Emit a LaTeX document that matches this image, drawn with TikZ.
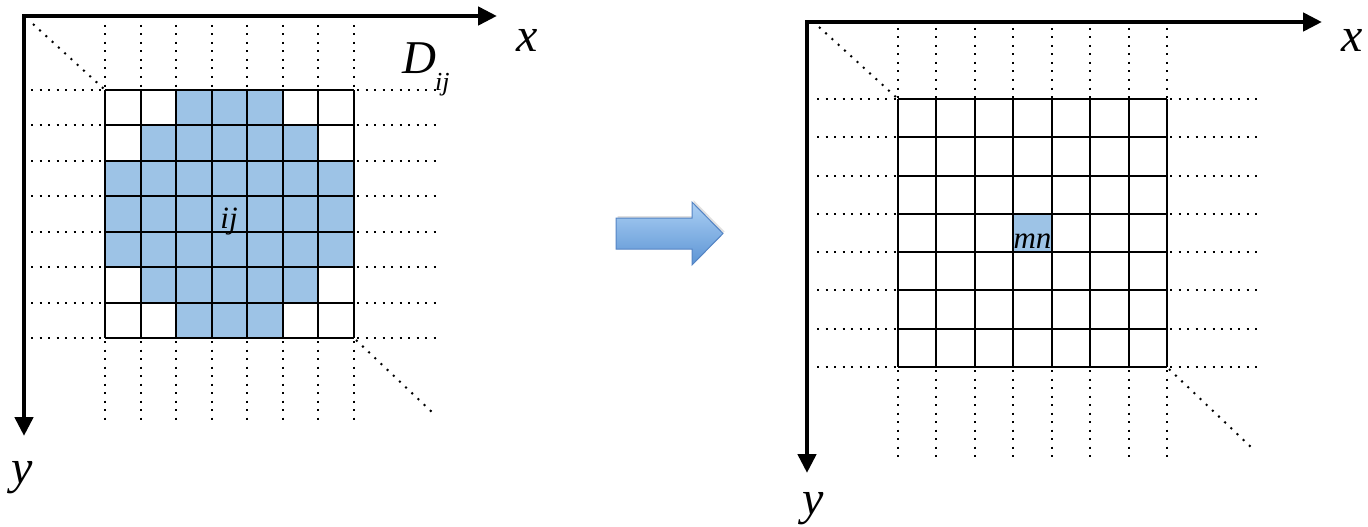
\documentclass[tikz,border=0pt]{standalone}
\usepackage{fontspec}
\setmainfont{Liberation Serif}
\usetikzlibrary{arrows.meta}
\definecolor{cellblue}{RGB}{157,195,230}
\definecolor{arrtop}{RGB}{172,208,244}
\definecolor{arrbot}{RGB}{92,148,212}
\definecolor{arredge}{RGB}{84,132,196}
\newcommand{\fsz}[1]{\fontsize{#1}{#1}\selectfont}
\begin{document}
\begin{tikzpicture}[x=1pt,y=-1pt,
  axisline/.style={line width=4.6pt,line join=miter,{Triangle[length=19pt,width=18pt]}-{Triangle[length=19pt,width=18pt]}},
  gridline/.style={line width=1.9pt},
  dotline/.style={line width=2pt,dash pattern=on 2pt off 6.5pt},
  lbl/.style={inner sep=0pt,anchor=base,font=\fsz{48}\itshape},
  cellbl/.style={inner sep=0pt,anchor=base,font=\fsz{31}\itshape},
]
\useasboundingbox[fill=white] (0,0) rectangle (1368,527);

% ---------------- left panel ----------------
\def\lx{105}\def\ly{90}\def\lw{35.571}\def\lh{35.429}
\foreach \r/\cs in {0/{2,3,4},1/{1,2,3,4,5},2/{0,1,2,3,4,5,6},3/{0,1,2,3,4,5,6},4/{0,1,2,3,4,5,6},5/{1,2,3,4,5},6/{2,3,4}}
  \foreach \c in \cs
    \fill[cellblue] (\lx+\c*\lw,\ly+\r*\lh) rectangle ++(\lw,\lh);
\foreach \i in {0,...,7}{
  \draw[gridline] (\lx+\i*\lw,\ly) -- ++(0,248);
  \draw[gridline] (\lx,\ly+\i*\lh) -- ++(249,0);
  \draw[dotline] (\lx+\i*\lw,25) -- (\lx+\i*\lw,\ly);
  \draw[dotline] (\lx+\i*\lw,341) -- (\lx+\i*\lw,424);
  \draw[dotline] (31,\ly+\i*\lh) -- (\lx,\ly+\i*\lh);
  \draw[dotline] (357,\ly+\i*\lh) -- (438,\ly+\i*\lh);
}
\draw[dotline] (33,24) -- (104,89);
\draw[dotline] (356,340) -- (434,414);
\coordinate (Lo) at (24,16);
\coordinate (Lx) at (497,16);
\coordinate (Ly) at (24,436);
\draw[axisline] (Lx) -- (Lo) -- (Ly);
\node[lbl] (lxlab) at (527,52) {x};
\node[lbl] (lylab) at (22,483) {y};
\node[inner sep=0pt,anchor=base west,font=\fsz{47}\itshape] (dlab) at (402,74) {D};
\node[inner sep=0pt,anchor=base west,font=\fsz{26}\itshape] (dsub) at (435,90) {ij};
\node[cellbl] (ijlab) at (229,228) {ij};

% ---------------- arrow ----------------
\fill[black!12,xshift=1.5pt,yshift=2pt]
  (616,218) -- (692,218) -- (692,202) -- (723,233.5) -- (692,265) -- (692,249) -- (616,249) -- cycle;
\shade[top color=arrtop,bottom color=arrbot,draw=arredge,line width=1pt]
  (616,218) -- (692,218) -- (692,202) -- (723,233.5) -- (692,265) -- (692,249) -- (616,249) -- cycle;

% ---------------- right panel ----------------
\def\rx{898}\def\ry{99}\def\rw{38.429}\def\rh{38.286}
\fill[cellblue] (\rx+3*\rw,\ry+3*\rh) rectangle ++(\rw,\rh);
\foreach \i in {0,...,7}{
  \draw[gridline] (\rx+\i*\rw,\ry) -- ++(0,268);
  \draw[gridline] (\rx,\ry+\i*\rh) -- ++(269,0);
  \draw[dotline] (\rx+\i*\rw,28) -- (\rx+\i*\rw,\ry);
  \draw[dotline] (\rx+\i*\rw,370) -- (\rx+\i*\rw,462);
  \draw[dotline] (817,\ry+\i*\rh) -- (\rx,\ry+\i*\rh);
  \draw[dotline] (1170,\ry+\i*\rh) -- (1257,\ry+\i*\rh);
}
\draw[dotline] (819,27) -- (897,98);
\draw[dotline] (1169,369) -- (1253,449);
\coordinate (Ro) at (807,22);
\coordinate (Rx) at (1322,22);
\coordinate (Ry) at (807,473);
\draw[axisline] (Rx) -- (Ro) -- (Ry);
\node[lbl] (rxlab) at (1352,52) {x};
\node[lbl] (rylab) at (813,514) {y};
\node[cellbl] (mnlab) at (\rx+3.5*\rw,248) {mn};
\end{tikzpicture}
\end{document}
